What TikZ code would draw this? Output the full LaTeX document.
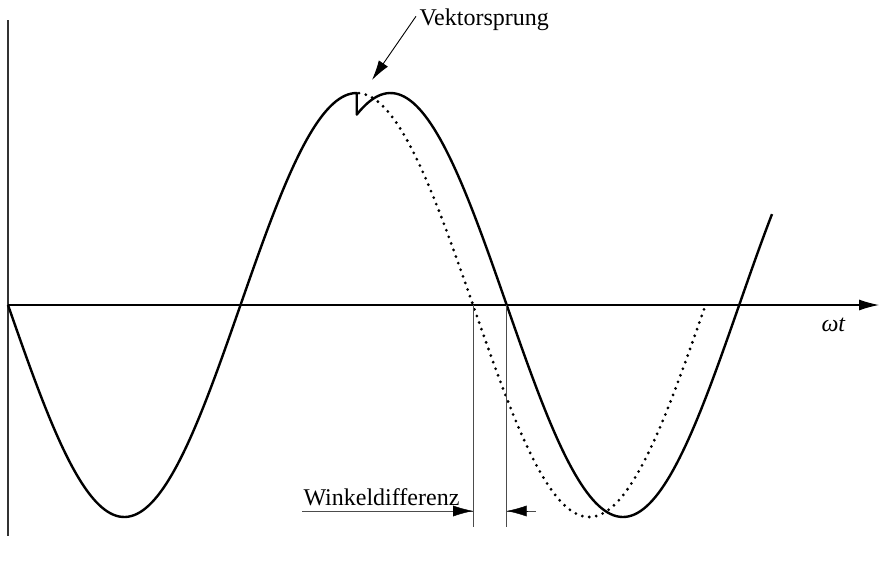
\documentclass[tikz,border=0pt]{standalone}
\usepackage{fontspec}
\setmainfont{Liberation Serif}
\usetikzlibrary{arrows.meta}

\begin{document}
\begin{tikzpicture}[x=1pt,y=-1pt,font=\fontsize{24}{28}\selectfont,
  wave/.style={line width=2.4pt,line join=round},
  shifted/.style={line width=3.1pt,line cap=round,dash pattern=on 0pt off 7pt},
  axis/.style={line width=1.1pt},
  dimline/.style={line width=1pt,black!70},
  arrowtip/.style={-{Latex[length=20pt,width=11pt]}}]
\useasboundingbox (0,0) rectangle (883,563);
% axes
\coordinate (O) at (8,305);
\coordinate (xend) at (879,305);
\coordinate (ytop) at (8,20);
\coordinate (ybot) at (8,536);
\draw[axis,black!80] (ytop) -- (ybot);
\draw[axis,arrowtip] (O) -- (xend);
\node[anchor=base west] (wt) at (818,331) {\textit{ωt}};
% wave before and after the jump (half period 232.5, shift 33.7)
\draw[wave] plot[domain=8:356.75,samples=120] (\x,{305+212*sin((\x-8)/232.5*180)})
  -- plot[domain=356.75:772,samples=140] (\x,{305+212*sin((\x-41.7)/232.5*180)});
\draw[shifted] plot[domain=359:705,samples=120] (\x,{305+212*sin((\x-8)/232.5*180)});
% Vektorsprung
\node[anchor=base west] (jump) at (416,25) {Vektorsprung};
\coordinate (jumptip) at (372,80);
\draw[line width=0.9pt,arrowtip] (jump.west) ++(0,-3) -- (jumptip);
% Winkeldifferenz
\coordinate (z1) at (473,305);
\coordinate (z2) at (506.7,305);
\draw[dimline] (z1) -- ++(0,222) coordinate (z1b);
\draw[dimline] (z2) -- ++(0,222) coordinate (z2b);
\coordinate (d1) at (473,511);
\coordinate (d2) at (506.7,511);
\node[anchor=base west] (diff) at (300,505) {Winkeldifferenz};
\draw[dimline] (302,511) -- (d1);
\draw[dimline] (d2) -- (536,511);
\draw[black,arrowtip] (453,511) -- (d1);
\draw[black,arrowtip] (527,511) -- (d2);
\end{tikzpicture}
\end{document}
